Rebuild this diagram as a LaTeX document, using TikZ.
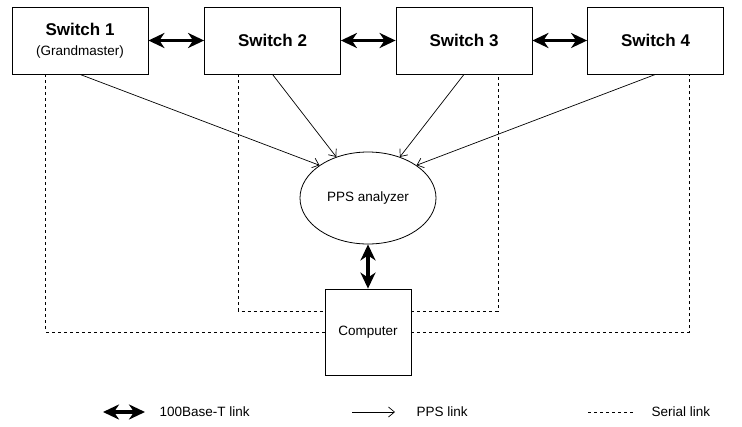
\documentclass[tikz,border=0pt]{standalone}
\usepackage{fontspec}
\setmainfont{Liberation Sans}
\usepackage{tikz}
\usetikzlibrary{arrows.meta,positioning,calc,shapes.geometric}
\tikzset{
  >=Stealth,
  sw/.style={rectangle, draw, line width=0.8pt, minimum width=136pt, minimum height=67pt, align=center, font=\fontsize{17}{20}\selectfont\bfseries},
  ana/.style={ellipse, draw, line width=0.8pt, minimum width=136pt, minimum height=92pt, inner sep=0pt, font=\fontsize{13.5}{16}\selectfont},
  pcbox/.style={rectangle, draw, line width=0.8pt, minimum width=86pt, minimum height=86pt, inner sep=0pt, font=\fontsize{13.5}{16}\selectfont},
  eth/.style={{Stealth[length=16pt,width=15pt,inset=5pt]}-{Stealth[length=16pt,width=15pt,inset=5pt]}, line width=3.3pt},
  ppl/.style={-{Straight Barb[length=6pt,width=10pt]}, line width=0.7pt},
  ser/.style={line width=0.9pt, dash pattern=on 3pt off 3pt},
  lbl/.style={anchor=west, font=\fontsize{13.5}{16}\selectfont}
}
\begin{document}
\begin{tikzpicture}[x=1pt,y=1pt]
    \useasboundingbox (0,0) rectangle (742,-426);

    % Switches
    \node[sw] (sw1) at (80,-40.5) {Switch 1\\{\fontsize{13.5}{16}\selectfont\mdseries (Grandmaster)}};
    \node[sw] (sw2) at (272.5,-40.5) {Switch 2};
    \node[sw] (sw3) at (464,-40.5) {Switch 3};
    \node[sw] (sw4) at (655.5,-40.5) {Switch 4};

    % Analyzer and computer
    \node[ana] (pps) at (368,-198) {PPS analyzer};
    \node[pcbox] (pc) at (368,-332) {Computer};

    % 100Base-T links
    \draw[eth] (sw1.east) -- (sw2.west);
    \draw[eth] (sw2.east) -- (sw3.west);
    \draw[eth] (sw3.east) -- (sw4.west);
    \draw[eth] (pps.south) -- (pc.north);

    % PPS links
    \draw[ppl] (sw1.south) -- (pps.146);
    \draw[ppl] (sw2.south) -- (pps);
    \draw[ppl] (sw3.south) -- (pps);
    \draw[ppl] (sw4.south) -- (pps.34);

    % Serial links
    \coordinate (d1) at ($(sw1.south west)!0.25!(sw1.south east)$);
    \coordinate (d2) at ($(sw2.south west)!0.25!(sw2.south east)$);
    \coordinate (d3) at ($(sw3.south west)!0.75!(sw3.south east)$);
    \coordinate (d4) at ($(sw4.south west)!0.75!(sw4.south east)$);
    \draw[ser] (d1) |- (pc.west);
    \draw[ser] (d2) |- ($(pc.west)+(0,21)$);
    \draw[ser] ($(pc.east)+(0,21)$) -| (d3);
    \draw[ser] (pc.east) -| (d4);

    % Legend
    \coordinate (ka) at (103,-412);
    \coordinate (kb) at (145,-412);
    \draw[eth] (ka) -- (kb);
    \node[lbl] (k1) at (156,-412) {100Base-T link};
    \coordinate (kc) at (352,-412);
    \coordinate (kd) at (395,-412);
    \draw[ppl] (kc) -- (kd);
    \node[lbl] (k2) at (413,-412) {PPS link};
    \coordinate (ke) at (588,-412);
    \coordinate (kf) at (633,-412);
    \draw[ser] (ke) -- (kf);
    \node[lbl] (k3) at (648,-412) {Serial link};

\end{tikzpicture}
\end{document}
